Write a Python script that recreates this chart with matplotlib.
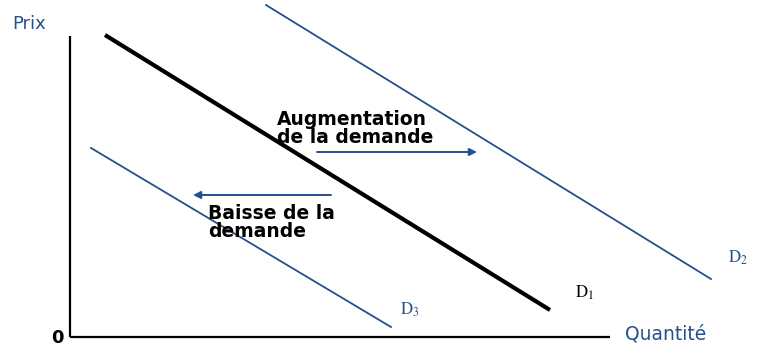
import matplotlib
matplotlib.use("Agg")
import matplotlib.pyplot as plt

plt.rcParams['font.family'] = ['DejaVu Sans']
plt.rcParams['mathtext.fontset'] = 'stix'

BLUE = "#25508c"

# Conceptual demand curves (quantity, price) endpoints
d1_q = [35, 480]
d1_p = [302, 27]
d2_q = [196, 641]
d2_p = [332, 58]
d3_q = [21, 321]
d3_p = [189, 10]

# Axes extent
q_axis_max = 540
p_axis_max = 301

# Shift arrows (start q, end q, price level)
up_arrow = (247, 407, 185)
down_arrow = (261, 123, 142)

fig = plt.figure(figsize=(7.58, 3.47), dpi=100)
ax = fig.add_axes([0, 0, 1, 1])
ax.set_xlim(-70, 688)
ax.set_ylim(-10, 337)
ax.axis('off')

# axes lines
ax.plot([0, 0], [0, p_axis_max], color='black', lw=1.6, solid_capstyle='butt')
ax.plot([0, q_axis_max], [0, 0], color='black', lw=1.6, solid_capstyle='butt')

# demand curves
ax.plot(d1_q, d1_p, color='black', lw=3.0, solid_capstyle='butt')
ax.plot(d2_q, d2_p, color=BLUE, lw=1.3)
ax.plot(d3_q, d3_p, color=BLUE, lw=1.3)

# arrows
for (q0, q1, p) in (up_arrow, down_arrow):
    ax.annotate('', xy=(q1, p), xytext=(q0, p),
                arrowprops=dict(arrowstyle='-|>', color=BLUE, lw=1.4,
                                mutation_scale=11, shrinkA=0, shrinkB=0))

# texts
ax.text(-58, 308, 'Prix', color=BLUE, fontsize=13, va='baseline', ha='left')
ax.text(555, -3, 'Quantité', color=BLUE, fontsize=13.5, va='baseline', ha='left')
ax.text(-13, -10, '0', color='black', fontsize=13, fontweight='bold', ha='center', va='bottom')

ax.text(207, 212, 'Augmentation', fontsize=13.5, fontweight='bold', va='baseline', ha='left')
ax.text(207, 194, 'de la demande', fontsize=13.5, fontweight='bold', va='baseline', ha='left')
ax.text(138, 118, 'Baisse de la', fontsize=13.5, fontweight='bold', va='baseline', ha='left')
ax.text(138, 100, 'demande', fontsize=13.5, fontweight='bold', va='baseline', ha='left')

ax.text(505, 39, r'$\mathrm{D}_1$', color='black', fontsize=12, va='baseline', ha='left')
ax.text(658, 74, r'$\mathrm{D}_2$', color=BLUE, fontsize=12, va='baseline', ha='left')
ax.text(330, 22, r'$\mathrm{D}_3$', color=BLUE, fontsize=12, va='baseline', ha='left')

fig.savefig('out.png', dpi=100)
